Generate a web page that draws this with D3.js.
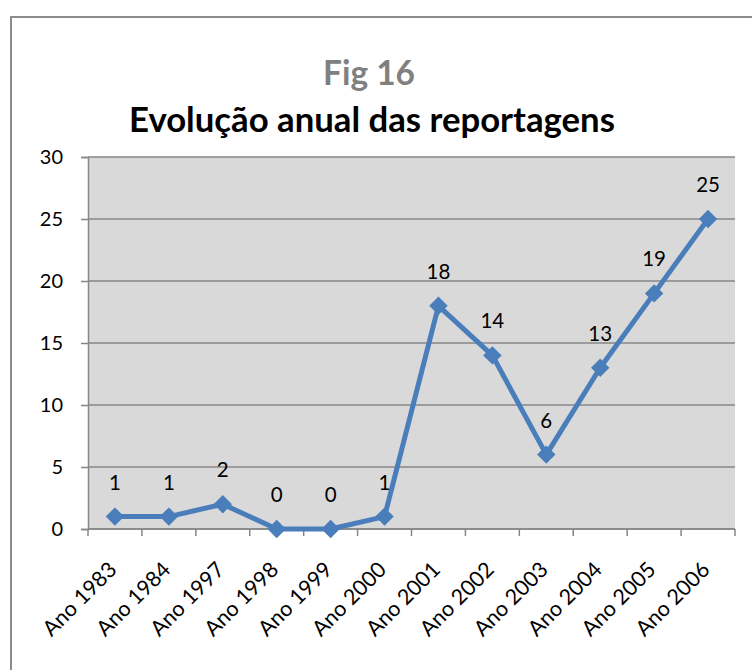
<!DOCTYPE html>
<html>
<head>
<meta charset="utf-8">
<script src="https://cdn.jsdelivr.net/npm/d3@7"></script>
<style>
  body { margin: 0; background: #fff; }
  svg text { font-family: Lato, "Open Sans", sans-serif; }
</style>
</head>
<body>
<svg id="chart" width="752" height="670"></svg>
<script>
// chart data
var categories = ['Ano 1983', 'Ano 1984', 'Ano 1997', 'Ano 1998', 'Ano 1999', 'Ano 2000',
  'Ano 2001', 'Ano 2002', 'Ano 2003', 'Ano 2004', 'Ano 2005', 'Ano 2006'];
var values = [1, 1, 2, 0, 0, 1, 18, 14, 6, 13, 19, 25];
var yTicks = [0, 5, 10, 15, 20, 25, 30];
var subtitle = 'Fig 16';
var title = 'Evolução anual das reportagens';

var svg = d3.select('#chart');
var plot = {left: 88, right: 735, top: 157, bottom: 529};

// outer frame, runs off the right and bottom edges
svg.append('rect')
  .attr('x', 11).attr('y', 17)
  .attr('width', 800).attr('height', 700)
  .attr('fill', 'none')
  .attr('stroke', '#8c8c8c')
  .attr('stroke-width', 2);

// shrink/grow the font until the text has the wanted width
function fitText(sel, width) {
  var size = +sel.attr('font-size');
  var len = sel.node().getComputedTextLength();
  sel.attr('font-size', size * width / len);
}

svg.append('text')
  .attr('x', 369).attr('y', 85)
  .attr('text-anchor', 'middle')
  .attr('font-weight', 'bold')
  .attr('font-size', 26)
  .attr('fill', '#808080')
  .text(subtitle)
  .call(fitText, 92);

svg.append('text')
  .attr('x', 372).attr('y', 132)
  .attr('text-anchor', 'middle')
  .attr('font-weight', 'bold')
  .attr('font-size', 30)
  .attr('fill', '#000')
  .text(title)
  .call(fitText, 486);

var x = d3.scaleBand()
  .domain(categories)
  .range([plot.left, plot.right]);
var y = d3.scaleLinear()
  .domain([0, 30])
  .range([plot.bottom, plot.top]);

// plot background
svg.append('rect')
  .attr('x', plot.left).attr('y', plot.top)
  .attr('width', plot.right - plot.left)
  .attr('height', plot.bottom - plot.top)
  .attr('fill', '#d9d9d9');

// gridlines + y axis
var yAxis = svg.append('g')
  .attr('transform', 'translate(' + plot.left + ',0)')
  .call(d3.axisLeft(y).tickValues(yTicks).tickSize(7).tickPadding(18));
yAxis.select('.domain').attr('stroke', '#868686').attr('stroke-width', 1.5);
yAxis.selectAll('.tick line').attr('stroke', '#868686').attr('stroke-width', 1.5);
yAxis.selectAll('.tick text')
  .attr('font-size', 20)
  .attr('fill', '#000')
  .attr('font-family', 'Lato, sans-serif');

svg.append('g').selectAll('line')
  .data(yTicks)
  .enter().append('line')
  .attr('x1', plot.left).attr('x2', plot.right)
  .attr('y1', d => y(d)).attr('y2', d => y(d))
  .attr('stroke', '#868686')
  .attr('stroke-width', 1.5);

// x axis: ticks sit between categories
var xBounds = categories.map(c => x(c)).concat([plot.right]);
var xAxis = svg.append('g');
xAxis.append('line')
  .attr('x1', plot.left).attr('x2', plot.right)
  .attr('y1', plot.bottom).attr('y2', plot.bottom)
  .attr('stroke', '#868686').attr('stroke-width', 1.5);
xAxis.selectAll('.xt')
  .data(xBounds)
  .enter().append('line')
  .attr('class', 'xt')
  .attr('x1', d => d).attr('x2', d => d)
  .attr('y1', plot.bottom).attr('y2', plot.bottom + 7)
  .attr('stroke', '#868686').attr('stroke-width', 1.5);
xAxis.selectAll('text')
  .data(categories)
  .enter().append('text')
  .attr('transform', d => 'translate(' + (x(d) + x.bandwidth() / 2 + 3) + ',' + (plot.bottom + 42) + ') rotate(-45)')
  .attr('text-anchor', 'end')
  .attr('font-size', 21.5)
  .attr('fill', '#000')
  .text(d => d);

// the series
var pts = categories.map((c, i) => ({cat: c, v: values[i]}));
var cx = d => x(d.cat) + x.bandwidth() / 2;

svg.append('path')
  .datum(pts)
  .attr('d', d3.line().x(cx).y(d => y(d.v)))
  .attr('fill', 'none')
  .attr('stroke', '#4a7ebb')
  .attr('stroke-width', 5)
  .attr('stroke-linejoin', 'round');

svg.append('g').selectAll('path')
  .data(pts)
  .enter().append('path')
  .attr('d', d3.symbol().type(d3.symbolSquare).size(170))
  .attr('transform', d => 'translate(' + cx(d) + ',' + y(d.v) + ') rotate(45)')
  .attr('fill', '#4a7ebb');

svg.append('g').selectAll('text')
  .data(pts)
  .enter().append('text')
  .attr('x', cx)
  .attr('y', d => y(d.v) - 27)
  .attr('text-anchor', 'middle')
  .attr('font-size', 20.5)
  .attr('fill', '#000')
  .text(d => d.v);
</script>
</body>
</html>
